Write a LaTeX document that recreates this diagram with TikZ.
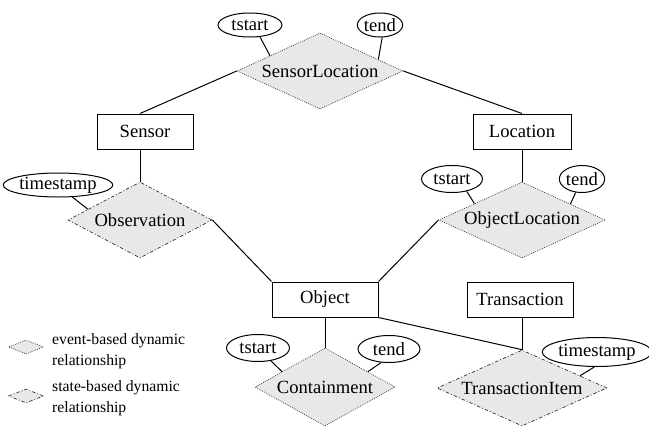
\documentclass[tikz,border=0pt]{standalone}
\usepackage{fontspec}
\setmainfont{Liberation Serif}
\usetikzlibrary{shapes.geometric,calc}
\definecolor{relfill}{HTML}{E8E8E8}
\tikzset{
  ent/.style={draw, line width=1pt, inner sep=0pt, minimum height=35pt, font=\fontsize{18.6}{22}\selectfont},
  attr/.style={draw, ellipse, line width=1pt, inner sep=0pt, font=\fontsize{18.6}{22}\selectfont},
  rel/.style={diamond, aspect=3, inner sep=0pt, fill=relfill, draw=black!80, line width=0.7pt, font=\fontsize{18.6}{22}\selectfont},
  evrel/.style={rel, dash pattern=on 0.8pt off 1.2pt},
  strel/.style={rel, dash pattern=on 3.5pt off 2pt on 1pt off 2pt},
  conn/.style={line width=1pt},
  legtext/.style={align=left, anchor=west, inner sep=0pt, font=\fontsize{15.7}{20.5}\selectfont}
}
\begin{document}
\begin{tikzpicture}[x=1pt,y=-1pt]
\useasboundingbox (0,0) rectangle (649,426);
% relationships
\node[evrel, minimum width=166pt, minimum height=76pt] (sl) at (320,71) {SensorLocation};
\node[strel, minimum width=144pt, minimum height=76pt] (obs) at (140,220) {Observation};
\node[evrel, minimum width=164pt, minimum height=76pt] (ol) at (522,220) {ObjectLocation};
\node[evrel, minimum width=140pt, minimum height=78pt] (cont) at (325,387) {Containment};
\node[strel, minimum width=170pt, minimum height=76pt] (ti) at (522,388) {TransactionItem};
% entities
\node[ent, minimum width=96pt] (sensor) at (145,131.5) {Sensor};
\node[ent, minimum width=98pt] (location) at (522,131.5) {Location};
\node[ent, minimum width=106pt] (object) at (325,299.5) {Object};
\node[ent, minimum width=106pt] (trans) at (520,299.5) {Transaction};
% attributes
\node[attr, minimum width=64pt, minimum height=24pt] (ts1) at (250,25) {tstart};
\node[attr, minimum width=42pt, minimum height=24pt] (te1) at (380,25) {tend};
\node[attr, minimum width=106pt, minimum height=24pt] (tso) at (58,185) {timestamp};
\node[attr, minimum width=61pt, minimum height=27pt] (ts2) at (452,179) {tstart};
\node[attr, minimum width=45pt, minimum height=27pt] (te2) at (582,179) {tend};
\node[attr, minimum width=63pt, minimum height=27pt] (ts3) at (258,348) {tstart};
\node[attr, minimum width=62pt, minimum height=27pt] (te3) at (389,349) {tend};
\node[attr, minimum width=93pt, minimum height=29pt] (tsti) at (597,352) {timestamp};
% connectors entity-relationship
\draw[conn] (sl.west) -- (sensor.north -| obs.north);
\draw[conn] (sl.east) -- (location.north);
\draw[conn] (sensor.south -| obs.north) -- (obs.north);
\draw[conn] (location.south) -- (ol.north);
\draw[conn] (obs.east) -- (object.north west);
\draw[conn] (ol.west) -- (object.north east);
\draw[conn] (object.south) -- (cont.north);
\draw[conn] (object.south east) -- (ti.north);
\draw[conn] (trans.south -| ti.north) -- (ti.north);
% connectors attribute-relationship
\draw[conn] (ts1.-50) -- ($(sl.north)!0.6!(sl.west)$);
\draw[conn] (te1.-80) -- ($(sl.north)!0.7!(sl.east)$);
\draw[conn] (tso.-40) -- ($(obs.north)!0.72!(obs.west)$);
\draw[conn] (ts2.-40) -- ($(ol.north)!0.57!(ol.west)$);
\draw[conn] (te2.-115) -- ($(ol.north)!0.58!(ol.east)$);
\draw[conn] (ts3.-45) -- ($(cont.north)!0.61!(cont.west)$);
\draw[conn] (te3.-120) -- ($(cont.north)!0.61!(cont.east)$);
\draw[conn] (tsti.-100) -- ($(ti.north)!0.68!(ti.east)$);
% legend
\node[evrel, minimum width=35pt, minimum height=14pt, aspect=2.5] (lg1) at (26,347) {};
\node[strel, minimum width=35pt, minimum height=14pt, aspect=2.5] (lg2) at (26,396) {};
\node[legtext] (lt1) at (52,351) {event-based dynamic\\relationship};
\node[legtext] (lt2) at (52,398) {state-based dynamic\\relationship};
\end{tikzpicture}
\end{document}
